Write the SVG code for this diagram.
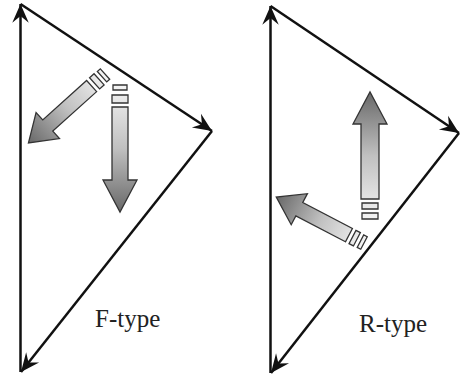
<svg xmlns="http://www.w3.org/2000/svg" width="461" height="377" viewBox="0 0 461 377">
<style>
.edge{stroke:#111;stroke-width:2.5;fill:none;marker-end:url(#ah)}
.blk{fill:url(#grad);stroke:#333;stroke-width:1.3;stroke-linejoin:miter}
.lbl{font-family:"Liberation Serif","Times New Roman",serif;font-size:25px;fill:#222}
</style>
<defs>
<marker id="ah" markerUnits="userSpaceOnUse" markerWidth="22" markerHeight="20" refX="0" refY="0" viewBox="-19 -9 20 18" orient="auto">
<path d="M0,0 L-17,-7.5 L-11,0 L-17,7.5 Z" fill="#111"/>
</marker>
<linearGradient id="grad" x1="0" y1="0" x2="1" y2="0">
<stop offset="0" stop-color="#f4f4f4"/>
<stop offset="0.5" stop-color="#c0c0c0"/>
<stop offset="1" stop-color="#686868"/>
</linearGradient>
</defs>
<g id="connectors">
<line class="edge" x1="20.5" y1="372" x2="20.5" y2="4"/>
<line class="edge" x1="20.5" y1="4" x2="212" y2="131"/>
<line class="edge" x1="212" y1="131" x2="21" y2="372"/>
<line class="edge" x1="270.5" y1="373" x2="270.5" y2="6"/>
<line class="edge" x1="270.5" y1="6" x2="459" y2="133"/>
<line class="edge" x1="459" y1="133" x2="271" y2="373"/>
</g>
<g id="f-diag-arrow" transform="translate(105,74) rotate(138)">
<path class="blk" d="M0,-7 H4 V7 H0 Z M8,-7.5 H14 V7.5 H8 Z M18,-7.5 H77 V-17.5 L103,0 L77,17.5 V7.5 H18 Z"/>
</g>
<g id="f-down-arrow" transform="translate(120,85) rotate(90)">
<path class="blk" d="M0,-7 H5 V7 H0 Z M10,-8 H18 V8 H10 Z M22,-8 H95 V-17 L127,0 L95,17 V8 H22 Z"/>
</g>
<g id="r-up-arrow" transform="translate(370,219) rotate(-90)">
<path class="blk" d="M0,-8 H6 V8 H0 Z M10,-8 H16 V8 H10 Z M20,-9 H95 V-17 L127,0 L95,17 V9 H20 Z"/>
</g>
<g id="r-diag-arrow" transform="translate(364,243) rotate(207.6)">
<path class="blk" d="M0,-7 H4 V7 H0 Z M8,-7.5 H13 V7.5 H8 Z M17,-7.5 H73 V-17.5 L99,0 L73,17.5 V7.5 H17 Z"/>
</g>
<g id="label-f"><text class="lbl" x="95" y="327">F-type</text></g>
<g id="label-r"><text class="lbl" x="359" y="332">R-type</text></g>
</svg>
